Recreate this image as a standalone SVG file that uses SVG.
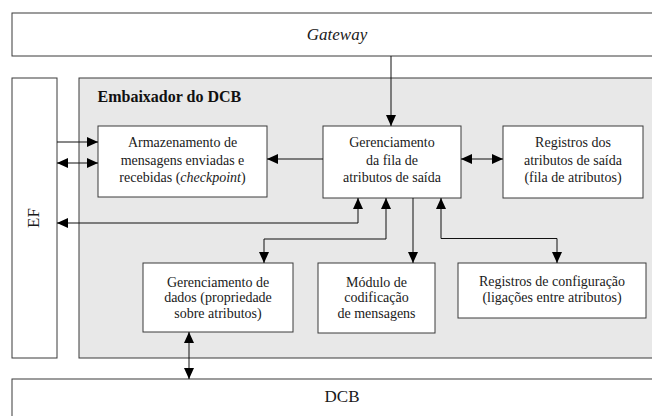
<svg xmlns="http://www.w3.org/2000/svg" width="652" height="416" viewBox="0 0 652 416">
  <defs>
    <marker id="arrow" markerUnits="userSpaceOnUse" markerWidth="12" markerHeight="11" refX="11" refY="5" orient="auto-start-reverse">
      <path d="M0,0 L11,5 L0,10 z" fill="#000000"/>
    </marker>
  </defs>

  <!-- outer frames -->
  <g id="gateway">
    <rect x="12" y="13" width="660" height="43" fill="#ffffff" stroke="#3a3a3a"/>
    <text x="337" y="40" font-family="Liberation Serif" font-size="17" font-style="italic" text-anchor="middle" fill="#1a1a1a">Gateway</text>
  </g>
  <g id="ef">
    <rect x="12" y="78" width="45" height="280" fill="#ffffff" stroke="#3a3a3a"/>
    <text transform="translate(39,218) rotate(-90)" font-family="Liberation Serif" font-size="17" text-anchor="middle" fill="#1a1a1a">EF</text>
  </g>
  <g id="embaixador">
    <rect x="79" y="78" width="593" height="280" fill="#e8e8e8" stroke="#3a3a3a"/>
    <text x="97.5" y="102" font-family="Liberation Serif" font-size="16" font-weight="bold" fill="#111111">Embaixador do DCB</text>
  </g>
  <g id="dcb">
    <rect x="12" y="379" width="660" height="50" fill="#ffffff" stroke="#3a3a3a"/>
    <text x="342" y="402" font-family="Liberation Serif" font-size="17" text-anchor="middle" fill="#1a1a1a">DCB</text>
  </g>

  <!-- inner modules: white boxes and centred labels share settings per parent group -->
  <g fill="#ffffff" stroke="#3a3a3a">
    <g id="armazenamento">
      <rect x="98" y="126" width="169" height="71"/>
      <g font-family="Liberation Serif" font-size="14" text-anchor="middle" fill="#1a1a1a" stroke="none">
        <text x="182.5" y="147">Armazenamento de</text>
        <text x="182.5" y="164.5">mensagens enviadas e</text>
        <text x="182.5" y="182">recebidas (<tspan font-style="italic">checkpoint</tspan>)</text>
      </g>
    </g>
    <g id="gerenciamento-fila">
      <rect x="323" y="126" width="138" height="72"/>
      <g font-family="Liberation Serif" font-size="14" text-anchor="middle" fill="#1a1a1a" stroke="none">
        <text x="392" y="147">Gerenciamento</text>
        <text x="392" y="164.5">da fila de</text>
        <text x="392" y="182">atributos de saída</text>
      </g>
    </g>
    <g id="registros-saida">
      <rect x="503" y="126" width="140" height="72"/>
      <g font-family="Liberation Serif" font-size="14" text-anchor="middle" fill="#1a1a1a" stroke="none">
        <text x="573" y="147">Registros dos</text>
        <text x="573" y="164.5">atributos de saída</text>
        <text x="573" y="182">(fila de atributos)</text>
      </g>
    </g>
    <g id="gerenciamento-dados">
      <rect x="143" y="263" width="150" height="69"/>
      <g font-family="Liberation Serif" font-size="14" text-anchor="middle" fill="#1a1a1a" stroke="none">
        <text x="218" y="286.5">Gerenciamento de</text>
        <text x="218" y="302">dados (propriedade</text>
        <text x="218" y="317.5">sobre atributos)</text>
      </g>
    </g>
    <g id="modulo-codificacao">
      <rect x="318" y="263" width="117" height="70"/>
      <g font-family="Liberation Serif" font-size="14" text-anchor="middle" fill="#1a1a1a" stroke="none">
        <text x="376.5" y="286.5">Módulo de</text>
        <text x="376.5" y="302">codificação</text>
        <text x="376.5" y="317.5">de mensagens</text>
      </g>
    </g>
    <g id="registros-configuracao">
      <rect x="458" y="263" width="188" height="55"/>
      <g font-family="Liberation Serif" font-size="14" text-anchor="middle" fill="#1a1a1a" stroke="none">
        <text x="552" y="286">Registros de configuração</text>
        <text x="552" y="302">(ligações entre atributos)</text>
      </g>
    </g>
  </g>

  <!-- connectors -->
  <g id="connectors" fill="none" stroke="#111111" stroke-width="1">
    <path d="M391,56 V126" marker-end="url(#arrow)"/>
    <path d="M323,159 H267" marker-end="url(#arrow)"/>
    <path d="M461,159 H503" marker-start="url(#arrow)" marker-end="url(#arrow)"/>
    <path d="M57,142 H98" marker-end="url(#arrow)"/>
    <path d="M57,163 H98" marker-start="url(#arrow)" marker-end="url(#arrow)"/>
    <path d="M57,223 H358 V198" marker-start="url(#arrow)" marker-end="url(#arrow)"/>
    <path d="M386,198 V239 H264 V263" marker-start="url(#arrow)" marker-end="url(#arrow)"/>
    <path d="M413,198 V263" marker-end="url(#arrow)"/>
    <path d="M441,198 V238.5 H557 V263" marker-start="url(#arrow)" marker-end="url(#arrow)"/>
    <path d="M189,332 V379" marker-start="url(#arrow)" marker-end="url(#arrow)"/>
  </g>
</svg>
